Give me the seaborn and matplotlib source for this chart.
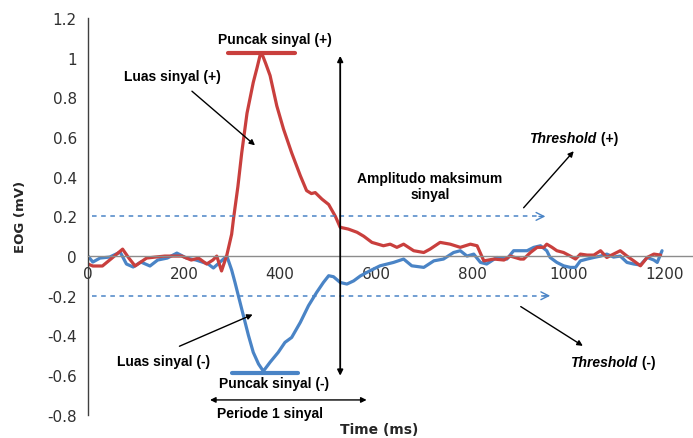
import matplotlib
matplotlib.use("Agg")
import matplotlib.pyplot as plt
import seaborn as sns

# data (time in ms, EOG in mV)
time_pos = [0, 10, 30, 50, 72, 85, 98, 110, 122, 140, 160, 175, 195, 215, 230, 247, 260, 268, 278, 289,
            299, 303, 312, 320, 331, 344, 352, 358, 362, 370, 379, 393, 407, 424, 442, 455, 465, 473, 487, 501,
            515, 525, 542, 560, 574, 591, 615, 629, 643, 657, 678, 699, 712, 733, 754, 775, 796, 810, 824, 845,
            866, 879, 900, 907, 921, 935, 949, 955, 966, 976, 990, 1004, 1015, 1025, 1039, 1053, 1067, 1080, 1094, 1108,
            1122, 1136, 1150, 1164, 1178, 1192]
eog_pos = [-0.04, -0.05, -0.05, -0.01, 0.035, -0.01, -0.05, -0.03, -0.01, -0.005, 0.0, 0.0, 0.0, -0.02, -0.01, -0.04, -0.02, 0.0, -0.075, 0.005,
           0.11, 0.19, 0.35, 0.52, 0.72, 0.875, 0.95, 1.01, 1.02, 0.97, 0.91, 0.757, 0.64, 0.52, 0.405, 0.33, 0.315, 0.32, 0.287, 0.26,
           0.2, 0.145, 0.136, 0.12, 0.10, 0.069, 0.052, 0.06, 0.044, 0.06, 0.027, 0.018, 0.035, 0.069, 0.06, 0.044, 0.06, 0.052, -0.024, -0.015,
           -0.02, 0.0, -0.015, -0.015, 0.018, 0.044, 0.044, 0.06, 0.044, 0.027, 0.018, 0.0, -0.015, 0.01, 0.005, 0.005, 0.027, -0.007, 0.01, 0.027,
           0.0, -0.024, -0.049, -0.007, 0.01, 0.005]

time_neg = [0, 10, 25, 45, 67, 80, 94, 110, 129, 145, 165, 185, 205, 225, 250, 261, 275, 289, 299, 306,
            320, 334, 344, 355, 365, 379, 396, 410, 424, 442, 459, 476, 490, 501, 511, 525, 539, 553, 567, 587,
            608, 636, 657, 674, 699, 720, 740, 761, 775, 789, 803, 817, 830, 851, 872, 886, 900, 914, 928, 942,
            955, 962, 976, 990, 1004, 1015, 1025, 1039, 1053, 1067, 1080, 1094, 1108, 1122, 1136, 1150, 1164, 1178, 1185, 1195]
eog_neg = [0.0, -0.03, -0.01, -0.005, 0.02, -0.04, -0.055, -0.03, -0.05, -0.02, -0.01, 0.015, -0.01, -0.02, -0.04, -0.06, -0.03, 0.0, -0.07, -0.133,
           -0.267, -0.40, -0.485, -0.544, -0.58, -0.535, -0.485, -0.435, -0.41, -0.334, -0.25, -0.183, -0.133, -0.099, -0.104, -0.133, -0.141, -0.125, -0.10, -0.074,
           -0.049, -0.032, -0.015, -0.049, -0.057, -0.024, -0.015, 0.018, 0.027, 0.0, 0.01, -0.032, -0.04, -0.007, -0.015, 0.027, 0.027, 0.027, 0.044, 0.052,
           0.027, -0.007, -0.032, -0.049, -0.057, -0.057, -0.024, -0.015, -0.007, 0.0, 0.01, -0.005, 0.0, -0.032, -0.04, -0.045, -0.007, -0.02, -0.032, 0.027]

threshold_pos = 0.2
threshold_neg = -0.2
peak_pos = 1.023
peak_neg = -0.589

x_ticks = [0, 200, 400, 600, 800, 1000, 1200]
y_ticks = [-0.8, -0.6, -0.4, -0.2, 0, 0.2, 0.4, 0.6, 0.8, 1, 1.2]
y_labels = ["-0.8", "-0.6", "-0.4", "-0.2", "0", "0.2", "0.4", "0.6", "0.8", "1", "1.2"]

RED = "#C93F3D"
BLUE = "#4A84C6"

sns.set_style("white")
plt.rcParams["font.family"] = ["DejaVu Sans"]

fig = plt.figure(figsize=(6.93, 4.39), dpi=100)
ax = fig.add_axes([0.127, 0.0528, 0.872, 0.904])

# sinyal EOG
sns.lineplot(x=time_neg, y=eog_neg, ax=ax, color=BLUE, linewidth=2.3)
sns.lineplot(x=time_pos, y=eog_pos, ax=ax, color=RED, linewidth=2.3)

# threshold (garis putus-putus + kepala panah)
for thr, t_end in [(threshold_pos, 958), (threshold_neg, 968)]:
    ax.plot([8, t_end - 15], [thr, thr], color=BLUE, lw=1.1, dashes=(3, 3))
    ax.annotate("", xy=(t_end, thr), xytext=(t_end - 25, thr),
                arrowprops=dict(arrowstyle="->", color=BLUE, lw=1.0, mutation_scale=14))

# garis puncak
ax.plot([292, 431], [peak_pos, peak_pos], color=RED, lw=3)
ax.plot([299, 437], [peak_neg, peak_neg], color=BLUE, lw=3)

# panah anotasi
arr = dict(arrowstyle="-|>", color="black", lw=1.0, mutation_scale=8)
ax.annotate("", xy=(352, 0.549), xytext=(212, 0.84), arrowprops=arr)
ax.annotate("", xy=(348, -0.289), xytext=(185, -0.46), arrowprops=arr)
ax.annotate("", xy=(1015, 0.539), xytext=(903, 0.233), arrowprops=arr)
ax.annotate("", xy=(1035, -0.46), xytext=(896, -0.247), arrowprops=arr)
arr2 = dict(arrowstyle="<|-|>", color="black", lw=1.3, mutation_scale=8, shrinkA=0, shrinkB=0)
ax.annotate("", xy=(525, 1.009), xytext=(525, -0.603), arrowprops=arr2)
ax.annotate("", xy=(580, -0.725), xytext=(254, -0.725), arrowprops=dict(arr2, lw=1.0))

tf = dict(family="Liberation Sans", fontweight="bold", fontsize=10, color="black")
ax.text(390, 1.093, "Puncak sinyal (+)", ha="center", va="center", **tf)
ax.text(176, 0.907, "Luas sinyal (+)", ha="center", va="center", **tf)
ax.text(712, 0.353, "Amplitudo maksimum\nsinyal", ha="center", va="center",
        multialignment="center", linespacing=1.2, **tf)
ax.text(158, -0.527, "Luas sinyal (-)", ha="center", va="center", **tf)
ax.text(387, -0.641, "Puncak sinyal (-)", ha="center", va="center", **tf)
ax.text(269, -0.793, "Periode 1 sinyal", ha="left", va="center", **tf)

for x0, y0, sign in [(919, 0.594, " (+)"), (1004, -0.534, " (-)")]:
    t1 = ax.text(x0, y0, "Threshold", ha="left", va="center", style="italic", **tf)
    ax.annotate(sign, xy=(1, 0.5), xycoords=t1, ha="left", va="center", **tf)

# sumbu
ax.set_xlim(0, 1258)
ax.set_ylim(-0.8, 1.2)
ax.set_xticks(x_ticks)
ax.set_yticks(y_ticks)
ax.set_yticklabels(y_labels)
for s in ["top", "right"]:
    ax.spines[s].set_visible(False)
ax.spines["bottom"].set_position(("data", 0))
ax.spines["bottom"].set_color("#8C8C8C")
ax.spines["left"].set_color("#404040")
ax.spines["bottom"].set_linewidth(1.0)
ax.spines["left"].set_linewidth(1.0)
ax.tick_params(axis="x", direction="in", length=4, color="#8C8C8C", pad=7, labelsize=11, labelcolor="#303030")
ax.tick_params(axis="y", direction="out", length=4, color="#404040", pad=4, labelsize=11, labelcolor="#303030")

ax.set_xlabel("Time (ms)", fontweight="bold", fontsize=10)
ax.xaxis.set_label_coords(0.482, -0.018)
ax.set_ylabel("EOG (mV)", fontweight="bold", fontsize=9.5)
ax.yaxis.set_label_coords(-0.101, 0.5)
ax.grid(False)

fig.savefig("out.png", dpi=100)
